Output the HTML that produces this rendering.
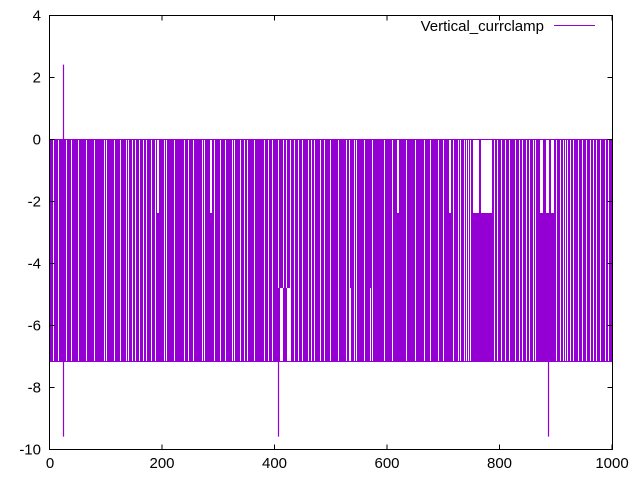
<!DOCTYPE html>
<html>
<head>
<meta charset="utf-8">
<style>
  html,body{margin:0;padding:0;background:#fff;}
  svg{display:block;}
  text{font-family:"Liberation Sans",sans-serif;font-size:15px;fill:#000;}
</style>
</head>
<body>
<svg width="640" height="480" viewBox="0 0 640 480" xmlns="http://www.w3.org/2000/svg">
  <rect x="0" y="0" width="640" height="480" fill="#fff"/>

  <!-- data band -->
  <rect x="50" y="139" width="562" height="223" fill="#9400d3"/>

  <!-- gaps full height -->
  <path fill="none" stroke="#fff" stroke-width="1" shape-rendering="crispEdges" d="
  M53.5 140V361 M58.5 140V361 M66.5 140V361 M71.5 140V361 M78.5 140V361 M86.5 140V361 M94.5 140V361 M104.5 140V361 M106.5 140V361 M114.5 140V361
  M120.5 140V361 M126.5 140V361 M128.5 140V361 M132.5 140V361 M135.5 140V361 M139.5 140V361 M143.5 140V361 M146.5 140V361 M151.5 140V361 M155.5 140V361
  M164.5 140V361 M166.5 140V361 M174.5 140V361 M184.5 140V361 M188.5 140V361 M193.5 140V361 M202.5 140V361 M204.5 140V361 M214.5 140V361 M220.5 140V361
  M225.5 140V361 M232.5 140V361 M234.5 140V361 M240.5 140V361 M244.5 140V361 M247.5 140V361 M254.5 140V361 M264.5 140V361 M268.5 140V361 M272.5 140V361
  M294.5 140V361 M298.5 140V361 M302.5 140V361 M308.5 140V361 M311.5 140V361 M314.5 140V361
  M320.5 140V361 M324.5 140V361 M330.5 140V361 M338.5 140V361 M346.5 140V361 M349.5 140V361 M354.5 140V361 M356.5 140V361 M364.5 140V361 M372.5 140V361
  M384.5 140V361 M392.5 140V361 M406.5 140V361 M415.5 140V361 M424.5 140V361 M430.5 140V361 M438.5 140V361 M443.5 140V361 M453.5 140V361 M458.5 140V361
  M460.5 140V361 M464.5 140V361 M466.5 140V361 M468.5 140V361 M470.5 140V361 M494.5 140V361 M497.5 140V361 M501.5 140V361 M505.5 140V361 M509.5 140V361
  M515.5 140V361 M519.5 140V361 M522.5 140V361 M526.5 140V361 M529.5 140V361 M533.5 140V361 M535.5 140V361 M556.5 140V361 M560.5 140V361 M563.5 140V361
  M565.5 140V361 M567.5 140V361 M570.5 140V361 M573.5 140V361 M578.5 140V361 M582.5 140V361 M586.5 140V361 M590.5 140V361 M593.5 140V361 M596.5 140V361
  M600.5 140V361 M605.5 140V361 M608.5 140V361"/>
  <!-- gaps partial (near -4.8 segments, upper portion) -->
  <path fill="none" stroke="#fff" stroke-width="1" shape-rendering="crispEdges" d="
  M278.5 140V288 M283.5 140V288 M286.5 140V288 M290.5 140V288"/>

  <!-- white blocks in top band (0 .. -2.4) -->
  <g shape-rendering="crispEdges" fill="#fff">
  <rect x="473" y="140" width="6" height="73"/>
  <rect x="481" y="140" width="11" height="73"/>
  <rect x="540" y="140" width="3" height="73"/>
  <rect x="546" y="140" width="3" height="73"/>
  <rect x="551" y="140" width="3" height="73"/>
  <rect x="397" y="140" width="2" height="73"/>
  <rect x="449" y="140" width="2" height="73"/>
  <rect x="157" y="140" width="2" height="73"/>
  <rect x="210" y="140" width="2" height="73"/>
  <!-- white blocks in lower band (-4.8 .. -7.2) -->
  <rect x="280" y="288" width="3" height="73"/>
  <rect x="287" y="288" width="4" height="73"/>
  <rect x="308" y="288" width="1" height="73"/>
  <rect x="350" y="288" width="1" height="73"/>
  <rect x="370" y="288" width="1" height="73"/>
  </g>

  <!-- spikes -->
  <path fill="none" stroke="#9400d3" stroke-width="1.2" d="M63.5 139V64.6 M63.5 362V436.6 M278.5 362V436.6 M548.5 362V436.6"/>

  <!-- axes box -->
  <rect x="49.5" y="15.5" width="563" height="434" fill="none" stroke="#000" stroke-width="1"/>

  <!-- ticks -->
  <path fill="none" stroke="#000" stroke-width="1" d="
  M49.5 15.5h5 M49.5 77.5h5 M49.5 139.5h5 M49.5 201.5h5 M49.5 263.5h5 M49.5 325.5h5 M49.5 387.5h5 M49.5 449.5h5
  M612.5 15.5h-5 M612.5 77.5h-5 M612.5 139.5h-5 M612.5 201.5h-5 M612.5 263.5h-5 M612.5 325.5h-5 M612.5 387.5h-5 M612.5 449.5h-5
  M49.5 449.5v-5 M162 449.5v-5 M274.5 449.5v-5 M387 449.5v-5 M499.5 449.5v-5 M612 449.5v-5
  M49.5 15.5v5 M162 15.5v5 M274.5 15.5v5 M387 15.5v5 M499.5 15.5v5 M612 15.5v5"/>

  <!-- y labels -->
  <g text-anchor="end">
    <text x="41" y="20.5">4</text>
    <text x="41" y="82.5">2</text>
    <text x="41" y="144.5">0</text>
    <text x="41" y="206.5">-2</text>
    <text x="41" y="268.5">-4</text>
    <text x="41" y="330.5">-6</text>
    <text x="41" y="392.5">-8</text>
    <text x="41" y="454.5">-10</text>
  </g>
  <!-- x labels -->
  <g text-anchor="middle">
    <text x="50" y="468">0</text>
    <text x="162" y="468">200</text>
    <text x="274.5" y="468">400</text>
    <text x="387" y="468">600</text>
    <text x="499.5" y="468">800</text>
    <text x="612" y="468">1000</text>
  </g>

  <!-- legend -->
  <text x="544" y="31" text-anchor="end">Vertical_currclamp</text>
  <line x1="554" y1="25.5" x2="595" y2="25.5" stroke="#9400d3" stroke-width="1"/>
</svg>
</body>
</html>
